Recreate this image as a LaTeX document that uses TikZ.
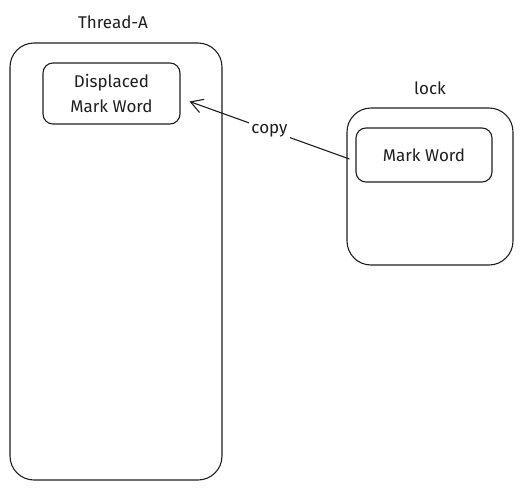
\documentclass[tikz,border=0pt]{standalone}
\usepackage{fontspec}
\setmainfont{Fira Sans}
\usetikzlibrary{positioning,arrows.meta}

\definecolor{ink}{HTML}{1E1E1E}

\newcommand*{\bigRadius}{24pt}
\newcommand*{\smallRadius}{10pt}

\tikzset{
	holder/.style={draw=ink, line width=1.1pt, rounded corners=\bigRadius, inner sep=0pt},
	word/.style={draw=ink, line width=1.1pt, rounded corners=\smallRadius, inner sep=0pt,
		align=center, text=ink, font=\fontsize{17}{25}\selectfont},
	title/.style={text=ink, font=\fontsize{17}{20}\selectfont},
	copyArrow/.style={draw=ink, line width=1.1pt, -{Straight Barb[length=12pt,width=14pt]}},
}

\begin{document}
\begin{tikzpicture}[x=1pt,y=-1pt]
	\useasboundingbox (0,0) rectangle (522,490);

	% thread stack
	\node [holder, minimum width=212pt, minimum height=437pt] (threadA) at (116,261.5) {};
	\node [title] (threadATitle) at (113,22) {Thread-A};
	\node [word, minimum width=137pt, minimum height=61pt] (displaced) at (111.5,93.5) {Displaced\\Mark Word};

	% lock object
	\node [holder, minimum width=166pt, minimum height=157pt] (lock) at (430,186.5) {};
	\node [title] (lockTitle) at (430,88) {lock};
	\node [word, minimum width=136pt, minimum height=54pt] (markWord) at (424,155) {Mark Word};

	\draw [copyArrow] ([xshift=-6pt,yshift=-4pt]markWord.west) -- ([xshift=9pt,yshift=-8pt]displaced.east)
		node [midway, fill=white, inner sep=2pt, title] (copyLabel) {copy};
\end{tikzpicture}
\end{document}
